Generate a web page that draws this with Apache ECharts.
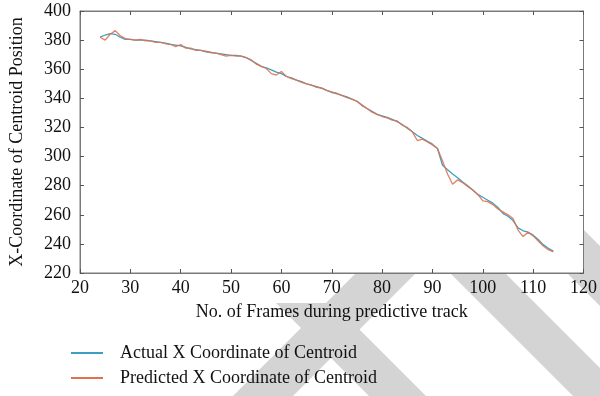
<!DOCTYPE html>
<html>
<head>
  <meta charset="UTF-8">
  <title>Centroid track</title>
  <script src="https://cdn.jsdelivr.net/npm/echarts@6/dist/echarts.min.js"></script>
  <style>
    html, body { margin: 0; padding: 0; background: #fff; }
    #main { width: 600px; height: 396px; }
  </style>
</head>
<body>
  <div id="main"></div>
<script>
  // frames 24..114
  const frames = [];
  for (let f = 24; f <= 114; f++) frames.push(f);

  const actualX = [
    382, 383.5, 384.5, 384, 382, 380.5, 380.5, 380, 380, 380,
    379.5, 379, 378.5, 378, 377, 376.5, 376, 375, 374, 373.5,
    373, 372, 371.5, 371, 370.5, 370, 369.5, 369.5, 369, 368,
    366, 364, 362, 361, 359.5, 358, 357, 355, 354, 352.5,
    351.5, 350, 349, 348, 347, 345.5, 344, 343.5, 342, 341,
    339.5, 338, 335, 333, 331, 329, 328, 327, 325.5, 324,
    322, 319.5, 317, 314.5, 312.5, 310.5, 308.5, 305.5, 294, 291,
    288, 285.5, 282.5, 280, 277, 274, 272, 270, 268, 265,
    261, 259, 256, 251, 249, 248, 246, 243, 239.5, 237,
    235
  ];
  const predictedX = [
    382, 380, 384, 386.5, 383, 381, 380.5, 380, 380.5, 379.5,
    379.5, 378.5, 378.5, 377.5, 377, 375.5, 377, 374.5, 374.5, 373,
    373, 372.5, 371.5, 371, 370, 369, 369.5, 369, 369, 368,
    366.5, 363.5, 362, 360.5, 357, 356, 358.5, 355, 353.5, 352.5,
    351, 350, 349, 347.5, 347, 345.5, 344.5, 343, 342, 340.5,
    339.5, 338, 335.5, 333, 330.5, 329, 327.5, 326.5, 325, 324.5,
    321.5, 320, 317, 311, 312, 310, 308, 305.5, 297, 288,
    281, 284, 282, 279.5, 277, 274, 269.5, 269, 267, 264,
    262, 260, 257.5, 249.5, 245, 248, 245.5, 242, 238.5, 236,
    234.5
  ];

  const serif = '"Liberation Serif", "DejaVu Serif", serif';
  const axisGray = '#7a7a7a';
  const tickCommon = { show: true, inside: true, length: 4, lineStyle: { color: '#555', width: 1 } };

  // light grey diagonal watermark bands behind the figure
  const bandStyle = { fill: '#d4d4d4' };
  const bands = [
    [[429, 200], [489, 200], [293, 396], [233, 396]],
    [[276, 303], [333, 303], [426, 396], [369, 396]],
    [[377, 200], [432, 200], [628, 396], [573, 396]],
    [[494, 200], [554, 200], [750, 396], [690, 396]]
  ];

  const chart = echarts.init(document.getElementById('main'), null, { renderer: 'canvas' });
  chart.setOption({
    animation: false,
    backgroundColor: '#fff',
    textStyle: { fontFamily: serif },
    graphic: bands.map(pts => ({
      type: 'polygon', z: -10, silent: true,
      shape: { points: pts }, style: bandStyle
    })),
    grid: { left: 71, right: 15, top: 11, bottom: 123, show: true, backgroundColor: '#fff', borderColor: axisGray, borderWidth: 1 },
    legend: {
      orient: 'vertical',
      left: 66,
      top: 339,
      itemWidth: 32,
      itemHeight: 2,
      itemGap: 7,
      icon: 'rect',
      textStyle: { fontFamily: serif, fontSize: 18, color: '#111', padding: [0, 0, 0, 12] },
      data: ['Actual X Coordinate of Centroid', 'Predicted X Coordinate of Centroid']
    },
    xAxis: [{
      type: 'value',
      min: 20, max: 120, interval: 10,
      name: 'No. of Frames during predictive track',
      nameLocation: 'middle',
      nameGap: 30,
      nameTextStyle: { fontFamily: serif, fontSize: 18, color: '#111' },
      axisLine: { show: true, lineStyle: { color: axisGray } },
      axisTick: tickCommon,
      axisLabel: { fontFamily: serif, fontSize: 18, color: '#111', margin: 6 },
      splitLine: { show: false }
    }, {
      type: 'value', position: 'top',
      min: 20, max: 120, interval: 10,
      axisLine: { show: true, lineStyle: { color: axisGray } },
      axisTick: tickCommon,
      axisLabel: { show: false },
      splitLine: { show: false }
    }],
    yAxis: [{
      type: 'value',
      min: 220, max: 400, interval: 20,
      name: 'X-Coordinate of Centroid Position',
      nameLocation: 'middle',
      nameGap: 54,
      nameTextStyle: { fontFamily: serif, fontSize: 18, color: '#111' },
      axisLine: { show: true, lineStyle: { color: axisGray } },
      axisTick: tickCommon,
      axisLabel: { fontFamily: serif, fontSize: 18, color: '#111', margin: 9 },
      splitLine: { show: false }
    }, {
      type: 'value', position: 'right',
      min: 220, max: 400, interval: 20,
      axisLine: { show: true, lineStyle: { color: axisGray } },
      axisTick: tickCommon,
      axisLabel: { show: false },
      splitLine: { show: false }
    }],
    series: [{
      name: 'Actual X Coordinate of Centroid',
      type: 'line',
      symbol: 'none',
      data: frames.map((f, i) => [f, actualX[i]]),
      lineStyle: { color: '#3d9fc0', width: 1.3 },
      itemStyle: { color: '#3d9fc0' }
    }, {
      name: 'Predicted X Coordinate of Centroid',
      type: 'line',
      symbol: 'none',
      data: frames.map((f, i) => [f, predictedX[i]]),
      lineStyle: { color: '#e0714f', width: 1.3, opacity: 0.9 },
      itemStyle: { color: '#e0714f' }
    }]
  });
</script>
</body>
</html>
